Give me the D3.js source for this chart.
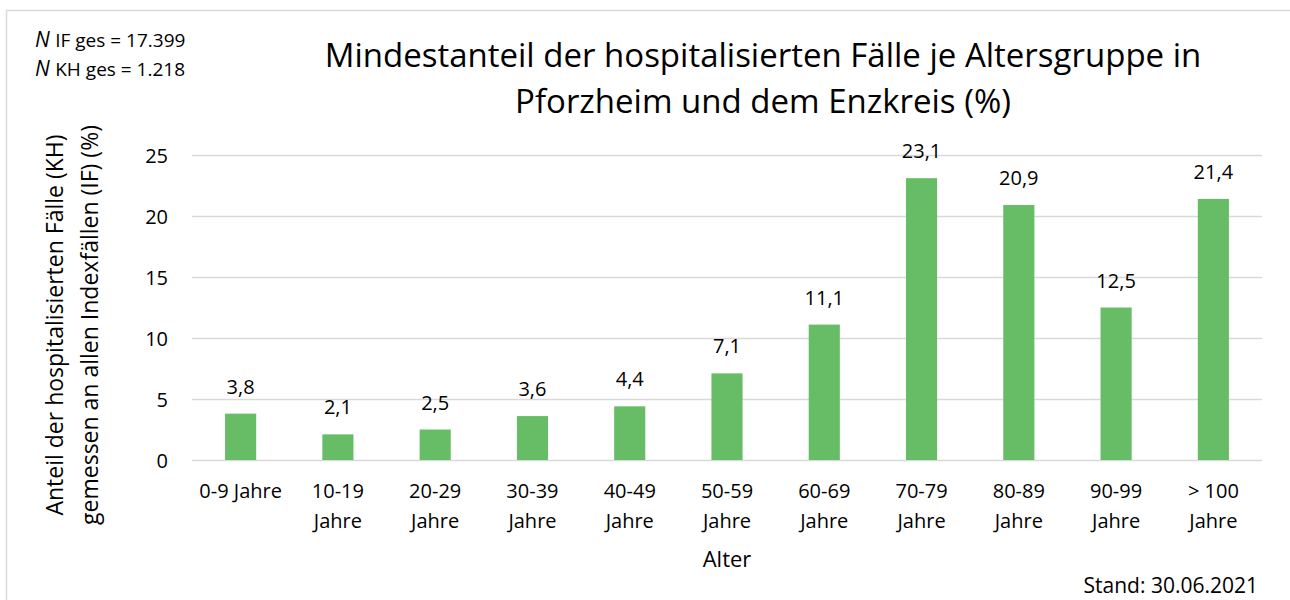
<!DOCTYPE html>
<html><head><meta charset="utf-8">
<script src="https://cdn.jsdelivr.net/npm/d3@7"></script>
<style>body{margin:0;background:#fff}svg{font-family:"Open Sans",sans-serif}</style>
</head><body><svg id="c" width="1290" height="600"></svg>
<script>
const categories = ["0-9 Jahre","10-19 Jahre","20-29 Jahre","30-39 Jahre","40-49 Jahre","50-59 Jahre","60-69 Jahre","70-79 Jahre","80-89 Jahre","90-99 Jahre","> 100 Jahre"];
const categoryLines = [["0-9 Jahre"],["10-19","Jahre"],["20-29","Jahre"],["30-39","Jahre"],["40-49","Jahre"],["50-59","Jahre"],["60-69","Jahre"],["70-79","Jahre"],["80-89","Jahre"],["90-99","Jahre"],["> 100","Jahre"]];
const values = [3.8,2.1,2.5,3.6,4.4,7.1,11.1,23.1,20.9,12.5,21.4];
const yTicks = [0,5,10,15,20,25];
const titleLines = ["Mindestanteil der hospitalisierten Fälle je Altersgruppe in","Pforzheim und dem Enzkreis (%)"];
const yLabelLines = ["Anteil der hospitalisierten Fälle (KH)","gemessen an allen Indexfällen (IF) (%)"];

const svg = d3.select("#c");
svg.append("rect").attr("x",6.5).attr("y",10.5).attr("width",1300).attr("height",600).attr("fill","#fff").attr("stroke","#d9d9d9").attr("stroke-width",1.5);

const x = d3.scaleBand().domain(categories).range([192,1262]).paddingInner(0.68).paddingOuter(0.34);
const y = d3.scaleLinear().domain([0,25]).range([460,155]);

const yAxis = d3.axisLeft(y).tickValues(yTicks).tickSize(-(1262-192)).tickPadding(24).tickFormat(d3.format("d"));
const gy = svg.append("g").attr("transform","translate(192,0)").call(yAxis);
gy.select(".domain").remove();
gy.selectAll("line").attr("stroke","#d9d9d9").attr("stroke-width",1.3);
gy.selectAll("text").attr("font-size",20).attr("fill","#000").attr("dy","0.35em").attr("font-family","'Open Sans',sans-serif");

svg.append("g").selectAll("rect").data(values).join("rect")
  .attr("x",(d,i)=>x(categories[i])).attr("width",x.bandwidth())
  .attr("y",d=>y(d)).attr("height",d=>y(0)-y(d)).attr("fill","#66bd66");

const fmt = d => d.toFixed(1).replace(".",",");
svg.append("g").selectAll("text").data(values).join("text")
  .attr("x",(d,i)=>x(categories[i])+x.bandwidth()/2).attr("y",d=>y(d)-20)
  .attr("text-anchor","middle").attr("font-size",20).attr("fill","#000").text(fmt);

const xAxis = d3.axisBottom(x).tickSize(0).tickFormat("");
const gx = svg.append("g").attr("transform","translate(0,460)").call(xAxis);
gx.select(".domain").remove();
gx.selectAll(".tick").each(function(d,i){
  const t = d3.select(this).append("text").attr("text-anchor","middle").attr("font-size",20).attr("fill","#000").attr("font-family","'Open Sans',sans-serif");
  categoryLines[i].forEach((l,j)=>t.append("tspan").attr("x",0).attr("y",38+j*30).text(l));
});

svg.append("text").attr("x",727).attr("y",567).attr("text-anchor","middle").attr("font-size",22).text("Alter");

const t = svg.append("text").attr("text-anchor","middle").attr("font-size",33).attr("fill","#000");
titleLines.forEach((l,i)=>t.append("tspan").attr("x",763).attr("y",67+i*46).text(l));

const yl = svg.append("text").attr("transform","translate(0,325) rotate(-90)").attr("text-anchor","middle").attr("font-size",23);
yLabelLines.forEach((l,i)=>yl.append("tspan").attr("x",0).attr("y",63+i*35).text(l));

const ann = [["IF ges = 17.399",47],["KH ges = 1.218",76]];
ann.forEach(a=>{
  const tx = svg.append("text").attr("x",35).attr("y",a[1]).attr("font-size",19);
  tx.append("tspan").attr("font-style","italic").attr("font-size",21).text("N ");
  tx.append("tspan").text(a[0]);
});

svg.append("text").attr("x",1258).attr("y",593).attr("text-anchor","end").attr("font-size",21).text("Stand: 30.06.2021");
</script></body></html>
